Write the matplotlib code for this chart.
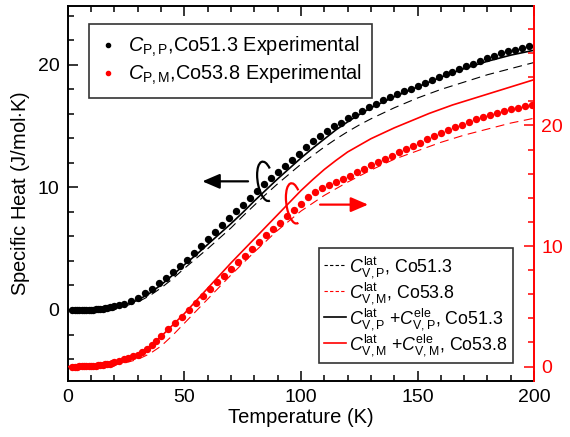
import matplotlib
matplotlib.use("Agg")
import matplotlib.pyplot as plt
from matplotlib.patches import Arc
from matplotlib.lines import Line2D

plt.rcParams['font.family'] = ['Liberation Sans', 'DejaVu Sans']
plt.rcParams['mathtext.fontset'] = 'custom'
plt.rcParams['mathtext.rm'] = 'Liberation Sans'
plt.rcParams['mathtext.it'] = 'Liberation Sans:italic'

# ---- data ----
# experimental points, Co51.3 (left axis)
t_exp_p = [2, 3, 4, 5, 6, 7, 8, 9, 10, 11, 12, 13, 14, 15, 16, 17, 18, 19, 20, 22,
           24, 27, 30, 33, 36, 39, 42, 45, 48, 51, 54, 57, 60, 63, 66, 69, 72, 75, 78, 81,
           84, 87, 90, 93, 96, 99, 102, 105, 108, 111, 114, 117, 120, 123, 126, 129, 132,
           135, 138, 141, 144, 147, 150, 153, 156, 159, 162, 165, 168, 171, 174, 177, 180,
           183, 186, 189, 192, 195, 198]
cp_p = [0.0, 0.0, 0.0, 0.0, 0.0, 0.0, 0.01, 0.02, 0.03, 0.04, 0.06, 0.08, 0.1, 0.12, 0.15, 0.18, 0.22, 0.26, 0.3, 0.4,
        0.5, 0.75, 1.0, 1.35, 1.75, 2.2, 2.65, 3.1, 3.6, 4.1, 4.65, 5.2, 5.8, 6.4, 6.95, 7.5, 8.05, 8.55, 9.15, 9.7,
        10.25, 10.8, 11.3, 11.75, 12.25, 12.7, 13.3, 13.8, 14.2, 14.6, 15.0, 15.3, 15.65, 15.95, 16.25, 16.55, 16.8,
        17.1, 17.35, 17.6, 17.85, 18.05, 18.3, 18.55, 18.8, 19.0, 19.25, 19.45, 19.7, 19.9, 20.1, 20.35, 20.55,
        20.75, 20.95, 21.1, 21.25, 21.4, 21.55]

# experimental points, Co53.8 (right axis)
t_exp_m = [2, 3, 4, 5, 6, 7, 8, 9, 10, 11, 12, 13, 14, 15, 16, 17, 18, 19, 20, 22,
           24, 26, 28, 30, 32, 34, 36, 38, 40, 43, 46, 49, 52, 55, 58, 61, 64, 67, 70, 73,
           76, 79, 82, 85, 88, 91, 94, 97, 100, 103, 106, 109, 112, 115, 118, 121, 124, 127,
           130, 133, 136, 139, 142, 145, 148, 151, 154, 157, 160, 163, 166, 169, 172, 175,
           178, 181, 184, 187, 190, 193, 196, 199]
cp_m = [0.0, 0.0, 0.0, 0.01, 0.01, 0.02, 0.03, 0.04, 0.05, 0.06, 0.08, 0.1, 0.12, 0.15, 0.18, 0.21, 0.25, 0.29, 0.34, 0.45,
        0.6, 0.72, 0.85, 1.0, 1.2, 1.45, 1.75, 2.1, 2.5, 3.1, 3.65, 4.15, 4.7, 5.3, 5.85, 6.4, 7.0, 7.55, 8.1, 8.65,
        9.2, 9.75, 10.3, 10.9, 11.4, 11.9, 12.45, 12.95, 13.5, 14.1, 14.45, 14.8, 15.1, 15.35, 15.6, 15.85, 16.1, 16.4,
        16.7, 17.0, 17.25, 17.5, 17.8, 18.05, 18.3, 18.55, 18.85, 19.15, 19.4, 19.6, 19.85, 20.05, 20.3, 20.5,
        20.7, 20.9, 21.05, 21.2, 21.35, 21.45, 21.6, 21.7]

# calculated curves
t_calc = [0, 5, 10, 15, 20, 25, 30, 35, 40, 45, 50, 55, 60, 65, 70, 75, 80, 85, 90, 95, 100,
          105, 110, 115, 120, 125, 130, 135, 140, 145, 150, 155, 160, 165, 170, 175, 180, 185, 190, 195, 200]
cv_lat_p = [0.0, 0.0, 0.01, 0.05, 0.15, 0.35, 0.65, 1.15, 1.8, 2.55, 3.4, 4.2, 5.0, 5.85, 6.7, 7.65, 8.55, 9.45, 10.3,
            11.1, 11.9, 12.6, 13.3, 13.95, 14.55, 15.1, 15.6, 16.05, 16.5, 16.9, 17.3, 17.65, 18.0, 18.3, 18.6, 18.9,
            19.2, 19.45, 19.7, 19.95, 20.2]
cv_tot_p = [0.0, 0.0, 0.02, 0.08, 0.2, 0.45, 0.8, 1.35, 2.05, 2.85, 3.7, 4.5, 5.35, 6.2, 7.05, 7.95, 8.9, 9.8, 10.7,
            11.55, 12.4, 13.2, 13.95, 14.7, 15.35, 15.95, 16.5, 16.95, 17.4, 17.8, 18.2, 18.6, 19.0, 19.35, 19.7, 20.0,
            20.3, 20.55, 20.8, 21.0, 21.2]
cv_lat_m = [0.0, 0.0, 0.02, 0.06, 0.15, 0.33, 0.6, 1.05, 1.7, 2.6, 3.6, 4.6, 5.6, 6.6, 7.6, 8.55, 9.5, 10.4, 11.3,
            12.1, 12.9, 13.55, 14.2, 14.75, 15.3, 15.8, 16.3, 16.75, 17.2, 17.55, 17.9, 18.25, 18.6, 18.9, 19.2, 19.45,
            19.7, 19.95, 20.2, 20.4, 20.6]
cv_tot_m = [0.0, 0.01, 0.05, 0.15, 0.32, 0.6, 1.0, 1.65, 2.5, 3.45, 4.4, 5.45, 6.5, 7.55, 8.6, 9.6, 10.6, 11.6, 12.6,
            13.6, 14.6, 15.5, 16.35, 17.1, 17.8, 18.35, 18.9, 19.35, 19.8, 20.2, 20.6, 21.0, 21.35, 21.7, 22.0, 22.3,
            22.6, 22.9, 23.2, 23.5, 23.8]

red = '#ff0000'

fig = plt.figure(figsize=(5.7, 4.37), dpi=100)
ax = fig.add_axes([0.119, 0.128, 0.818, 0.858])
ax2 = ax.twinx()

# Co51.3 on left axis
ax.plot(t_calc, cv_lat_p, color='k', lw=0.8, ls=(0, (8, 5)))
ax.plot(t_calc, cv_tot_p, color='k', lw=1.2)
ax.plot(t_exp_p, cp_p, 'o', color='k', ms=5.3, mec='none')

# Co53.8 on right axis
ax2.plot(t_calc, cv_lat_m, color=red, lw=0.8, ls=(0, (8, 5)))
ax2.plot(t_calc, cv_tot_m, color=red, lw=1.2)
ax2.plot(t_exp_m, cp_m, 'o', color=red, ms=5.3, mec='none')

ax.set_xlim(0, 200)
ax.set_ylim(-5.8, 24.8)
ax2.set_ylim(-1.2, 29.9)

ax.set_xticks([0, 50, 100, 150, 200])
ax.set_xticks(range(0, 201, 10), minor=True)
ax.set_yticks([0, 10, 20])
ax.set_yticks(range(-4, 25, 2), minor=True)
ax2.set_yticks([0, 10, 20])
ax2.set_yticks(range(0, 30, 2), minor=True)

ax.tick_params(which='both', direction='in', top=True, right=False, width=1.1, labelsize=14, pad=6)
ax.tick_params(which='major', length=7)
ax.tick_params(which='minor', length=4)
ax2.tick_params(which='both', direction='in', colors=red, width=1.1, labelsize=14, pad=5)
ax2.tick_params(which='major', length=7)
ax2.tick_params(which='minor', length=4)

for s in ['left', 'bottom', 'top']:
    ax.spines[s].set_linewidth(1.4)
ax.spines['right'].set_visible(False)
for s in ['left', 'bottom', 'top']:
    ax2.spines[s].set_visible(False)
ax2.spines['right'].set_color(red)
ax2.spines['right'].set_linewidth(1.4)

ax.set_xlabel('Temperature (K)', fontsize=14.5, labelpad=1)
ax.set_ylabel('Specific Heat (J/mol$\\cdot$K)', fontsize=14.5, labelpad=4)

# loops and arrows showing which axis each data set uses
ax.add_patch(Arc((84.8, 10.5), 7.3, 3.0, angle=-10, theta1=40, theta2=330, color='k', lw=1.6))
ax.annotate('', xy=(56.5, 10.5), xytext=(78.5, 10.5),
            arrowprops=dict(arrowstyle='-|>,head_length=0.7,head_width=0.3', color='k', lw=1.6, mutation_scale=15))
ax.add_patch(Arc((97.0, 8.7), 7.0, 3.1, angle=-10, theta1=40, theta2=330, color=red, lw=1.6))
ax.annotate('', xy=(130.0, 8.6), xytext=(107.0, 8.6),
            arrowprops=dict(arrowstyle='-|>,head_length=0.7,head_width=0.3', color=red, lw=1.6, mutation_scale=15))

# legends
h_exp = [Line2D([], [], ls='none', marker='o', ms=3, color='k'),
         Line2D([], [], ls='none', marker='o', ms=3, color=red)]
lab_exp = ['$C_{\\mathrm{P,P}}$,Co51.3 Experimental', '$C_{\\mathrm{P,M}}$,Co53.8 Experimental']
leg1 = ax2.legend(h_exp, lab_exp, loc='upper left', bbox_to_anchor=(0.045, 0.952), borderaxespad=0,
                  fontsize=14.3, frameon=True, fancybox=False, edgecolor='k', handlelength=0.8,
                  handletextpad=0.6, labelspacing=0.2, borderpad=0.55)
leg1.get_frame().set_linewidth(1.2)
ax2.add_artist(leg1)

h_calc = [Line2D([], [], color='k', lw=0.8, ls=(0, (3, 2))),
          Line2D([], [], color=red, lw=0.8, ls=(0, (3, 2))),
          Line2D([], [], color='k', lw=1.2),
          Line2D([], [], color=red, lw=1.2)]
lab_calc = ['$C_{\\mathrm{V,P}}^{\\mathrm{lat}}$, Co51.3',
            '$C_{\\mathrm{V,M}}^{\\mathrm{lat}}$, Co53.8',
            '$C_{\\mathrm{V,P}}^{\\mathrm{lat}}$ +$C_{\\mathrm{V,P}}^{\\mathrm{ele}}$, Co51.3',
            '$C_{\\mathrm{V,M}}^{\\mathrm{lat}}$ +$C_{\\mathrm{V,M}}^{\\mathrm{ele}}$, Co53.8']
leg2 = ax2.legend(h_calc, lab_calc, loc='lower right', bbox_to_anchor=(0.955, 0.048), borderaxespad=0,
                  fontsize=12.8, frameon=True, fancybox=False, edgecolor='k', handlelength=1.2,
                  handletextpad=0.2, labelspacing=0.0, borderpad=0.3)
leg2.get_frame().set_linewidth(1.2)

fig.savefig('out.png', dpi=100)
